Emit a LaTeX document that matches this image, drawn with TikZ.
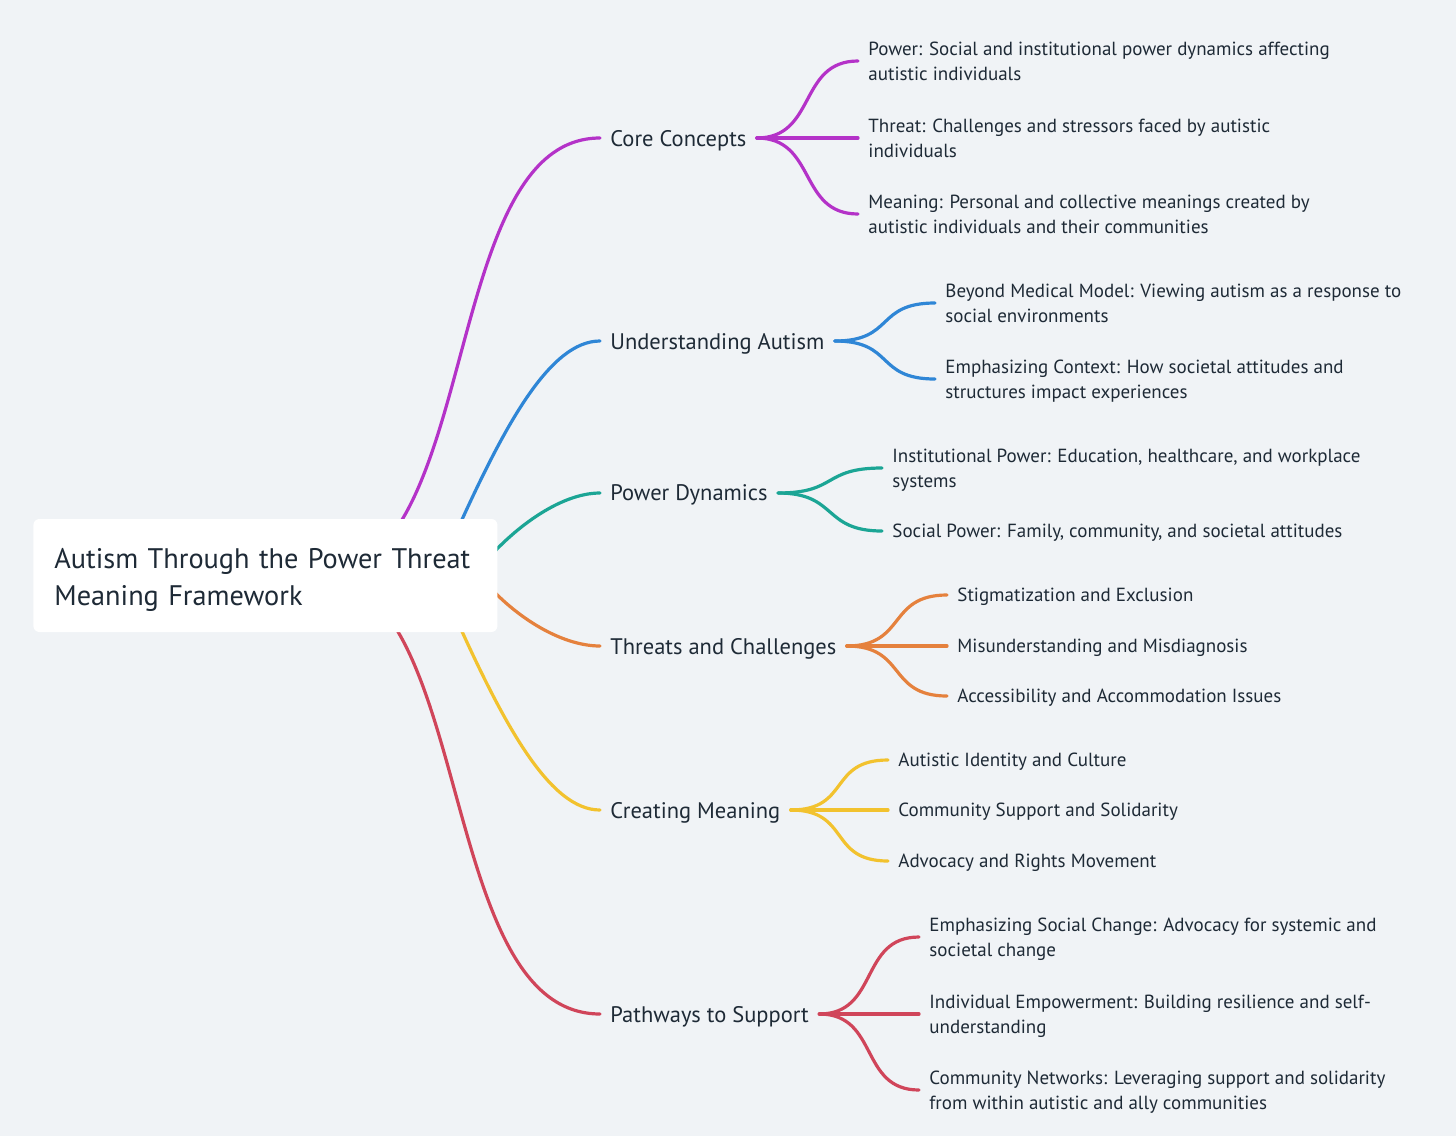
\documentclass[tikz,border=0pt]{standalone}
\usepackage{fontspec}
\setmainfont{PT Sans}
\usepackage{tikz}
\usetikzlibrary{calc}
\usepackage{xcolor}

\definecolor{bgc}{HTML}{F0F3F6}
\definecolor{ink}{HTML}{1E2A36}
\definecolor{cpurple}{HTML}{B432C8}
\definecolor{cblue}{HTML}{2F86D6}
\definecolor{cteal}{HTML}{1BA595}
\definecolor{corange}{HTML}{E5813D}
\definecolor{cyellow}{HTML}{F2C22E}
\definecolor{cred}{HTML}{D0455A}

\begin{document}
\begin{tikzpicture}[x=0.5pt,y=-0.5pt,
  root/.style={anchor=west,fill=white,rounded corners=3pt,inner xsep=10.5pt,
    text width=211pt,minimum height=56.5pt,align=left,text=ink,text height=14.5pt,
    font=\fontsize{14.15}{18.5}\selectfont},
  branch/.style={anchor=west,inner xsep=5pt,inner ysep=2pt,text=ink,text depth=0pt,
    font=\fontsize{11.25}{13}\selectfont},
  leaf/.style={anchor=west,inner xsep=5pt,inner ysep=2pt,align=left,text=ink,text depth=-1.5pt,
    font=\fontsize{9.5}{12.5}\selectfont},
  link/.style={line width=1.6pt,line cap=round}]

\fill[bgc] (0,0) rectangle (1456,1136);

% main branches
\node[branch] (cc) at (600,138) {Core Concepts};
\node[branch] (ua) at (600,341) {Understanding Autism};
\node[branch] (pd) at (600,493) {Power Dynamics};
\node[branch] (tc) at (600,646) {Threats and Challenges};
\node[branch] (cm) at (600,810) {Creating Meaning};
\node[branch] (ps) at (600,1014) {Pathways to Support};

% leaves
\node[leaf] (cc1) at (858,61) {Power: Social and institutional power dynamics affecting\\autistic individuals};
\node[leaf] (cc2) at (858,138) {Threat: Challenges and stressors faced by autistic\\individuals};
\node[leaf] (cc3) at (858,214) {Meaning: Personal and collective meanings created by\\autistic individuals and their communities};

\node[leaf] (ua1) at (935,303) {Beyond Medical Model: Viewing autism as a response to\\social environments};
\node[leaf] (ua2) at (935,379) {Emphasizing Context: How societal attitudes and\\structures impact experiences};

\node[leaf] (pd1) at (882,468) {Institutional Power: Education, healthcare, and workplace\\systems};
\node[leaf] (pd2) at (882,531) {Social Power: Family, community, and societal attitudes};

\node[leaf] (tc1) at (947,595) {Stigmatization and Exclusion};
\node[leaf] (tc2) at (947,646) {Misunderstanding and Misdiagnosis};
\node[leaf] (tc3) at (947,696) {Accessibility and Accommodation Issues};

\node[leaf] (cm1) at (888,760) {Autistic Identity and Culture};
\node[leaf] (cm2) at (888,810) {Community Support and Solidarity};
\node[leaf] (cm3) at (888,861) {Advocacy and Rights Movement};

\node[leaf] (ps1) at (919,937) {Emphasizing Social Change: Advocacy for systemic and\\societal change};
\node[leaf] (ps2) at (919,1014) {Individual Empowerment: Building resilience and self-\\understanding};
\node[leaf] (ps3) at (919,1090) {Community Networks: Leveraging support and solidarity\\from within autistic and ally communities};

% root links (they start under the root box)
\coordinate (s1) at (320,575);
\coordinate (s2) at (455,535);
\coordinate (s3) at (480,568);
\coordinate (s4) at (480,576);
\coordinate (s5) at (455,616);
\coordinate (s6) at (316,575);
\draw[link,cpurple] (s1) .. controls +(162,0) and +(-162,0) .. (cc.west);
\draw[link,cblue] (s2) .. controls +(49.5,-110) and +(-50,0) .. (ua.west);
\draw[link,cteal] (s3) .. controls +(31.5,-39) and +(-40,0) .. (pd.west);
\draw[link,corange] (s4) .. controls +(31.5,39) and +(-40,0) .. (tc.west);
\draw[link,cyellow] (s5) .. controls +(49.5,110) and +(-50,0) .. (cm.west);
\draw[link,cred] (s6) .. controls +(160,0) and +(-166,0) .. (ps.west);

% branch links
\foreach \a in {cc1,cc2,cc3}
  \draw[link,cpurple] (cc.east) .. controls +(60,0) and +(-60,0) .. (\a.west);
\foreach \a in {ua1,ua2}
  \draw[link,cblue] (ua.east) .. controls +(60,0) and +(-60,0) .. (\a.west);
\foreach \a in {pd1,pd2}
  \draw[link,cteal] (pd.east) .. controls +(60,0) and +(-60,0) .. (\a.west);
\foreach \a in {tc1,tc2,tc3}
  \draw[link,corange] (tc.east) .. controls +(60,0) and +(-60,0) .. (\a.west);
\foreach \a in {cm1,cm2,cm3}
  \draw[link,cyellow] (cm.east) .. controls +(60,0) and +(-60,0) .. (\a.west);
\foreach \a in {ps1,ps2,ps3}
  \draw[link,cred] (ps.east) .. controls +(60,0) and +(-60,0) .. (\a.west);

% root box on top
\node[root] (root) at (33,575.5) {Autism Through the Power Threat\\Meaning Framework};

\end{tikzpicture}
\end{document}
